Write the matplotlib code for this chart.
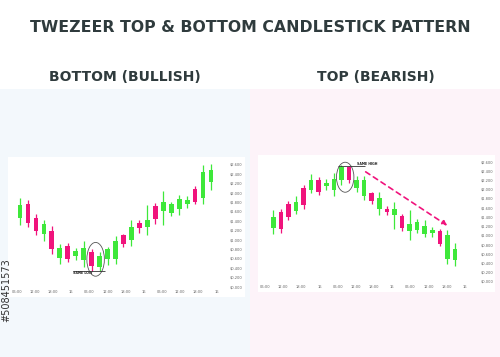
import matplotlib
matplotlib.use("Agg")
import matplotlib.pyplot as plt
from matplotlib.patches import Rectangle, Ellipse, FancyArrowPatch

W, H = 500, 357

GREEN = '#3ee83a'
PINK = '#f0137c'
TXT = '#2f3b3d'

# bottom (bullish) candles: open, high, low, close
bot_open = [1.48, 1.76, 1.48, 1.13, 1.20, 0.61, 0.88, 0.67, 0.57, 0.75, 0.43, 0.59, 0.59,
            1.10, 1.01, 1.36, 1.27, 1.73, 1.62, 1.57, 1.66, 1.77, 2.09, 1.89, 2.23]
bot_high = [1.89, 1.86, 1.55, 1.43, 1.30, 0.91, 0.94, 0.84, 0.98, 0.82, 0.75, 0.86, 1.09,
            1.14, 1.43, 1.43, 1.75, 1.80, 2.04, 1.82, 1.96, 1.93, 2.16, 2.61, 2.63]
bot_low = [1.32, 1.27, 1.11, 0.99, 0.70, 0.49, 0.54, 0.57, 0.43, 0.35, 0.35, 0.46, 0.50,
           0.86, 0.87, 1.16, 1.11, 1.34, 1.32, 1.51, 1.54, 1.68, 1.76, 1.77, 2.07]
bot_close = [1.74, 1.37, 1.19, 1.34, 0.80, 0.83, 0.60, 0.76, 0.83, 0.45, 0.67, 0.80, 0.99,
             0.91, 1.27, 1.26, 1.43, 1.45, 1.81, 1.77, 1.87, 1.86, 1.81, 2.46, 2.49]

# top (bearish) candles
top_open = [1.17, 1.51, 1.68, 1.53, 2.04, 2.00, 2.22, 2.07, 2.00, 2.20, 2.49, 2.04, 1.87,
            1.93, 1.58, 1.59, 1.46, 1.42, 1.10, 1.13, 1.03, 1.06, 1.10, 0.50, 0.48]
top_high = [1.55, 1.58, 1.75, 1.86, 2.11, 2.33, 2.27, 2.23, 2.36, 2.53, 2.52, 2.30, 2.30,
            1.96, 1.95, 1.65, 1.73, 1.47, 1.55, 1.37, 1.35, 1.19, 1.15, 1.13, 0.85]
top_low = [1.04, 1.06, 1.34, 1.47, 1.58, 1.93, 1.89, 2.00, 1.87, 2.11, 2.14, 1.96, 1.78,
           1.70, 1.46, 1.46, 1.15, 1.10, 0.90, 1.06, 0.98, 0.98, 0.77, 0.38, 0.34]
top_close = [1.41, 1.15, 1.41, 1.73, 1.66, 2.20, 1.95, 2.14, 2.23, 2.50, 2.20, 2.22, 2.22,
             1.75, 1.82, 1.51, 1.58, 1.17, 1.26, 1.31, 1.22, 1.13, 0.83, 1.01, 0.72]

price_ticks = [2.6, 2.4, 2.2, 2.0, 1.8, 1.6, 1.4, 1.2, 1.0, 0.8, 0.6, 0.4, 0.2, 0.0]
price_labels = ['$' + f'{v:.3f}' for v in price_ticks]
time_labels = ['06:00', '12:00', '18:00', '16', '06:00', '12:00', '18:00', '16',
               '06:00', '12:00', '18:00', '16']

fig = plt.figure(figsize=(W / 100, H / 100), dpi=100)
fig.patch.set_facecolor('white')


def px_rect(x0, y0, x1, y1):
    # pixel box (top-left origin) -> figure fraction
    return [x0 / W, 1 - y1 / H, (x1 - x0) / W, (y1 - y0) / H]


# coloured halves behind the charts
fig.patches.append(Rectangle((0, 0), 0.5, 1 - 89 / H, transform=fig.transFigure,
                             facecolor='#f3f8fc', edgecolor='none', zorder=-5))
fig.patches.append(Rectangle((0.5, 0), 0.5, 1 - 89 / H, transform=fig.transFigure,
                             facecolor='#fdf3f9', edgecolor='none', zorder=-5))

fig.text(0.5, 1 - 28 / H, 'TWEZEER TOP & BOTTOM CANDLESTICK PATTERN', ha='center',
         va='center', fontsize=11.3, fontweight='bold', color=TXT)
fig.text(125 / W, 1 - 77 / H, 'BOTTOM (BULLISH)', ha='center', va='center',
         fontsize=10, fontweight='bold', color=TXT)
fig.text(376 / W, 1 - 77 / H, 'TOP (BEARISH)', ha='center', va='center',
         fontsize=10, fontweight='bold', color=TXT)
fig.text(6 / W, 1 - 290 / H, '#508451573', rotation=90, ha='center', va='center',
         fontsize=7, color='#333333', zorder=10)


def candles(ax, o, h, l, c):
    for i in range(len(o)):
        col = GREEN if c[i] >= o[i] else PINK
        ax.vlines(i, l[i], h[i], color=col, lw=0.9, zorder=2)
        ax.bar(i, c[i] - o[i], bottom=o[i], width=0.6, color=col, zorder=3)


def setup(ax, xlim, ylim, ylab_x, xlab_y, xt0, xstep):
    ax.set_xlim(*xlim)
    ax.set_ylim(*ylim)
    ax.set_facecolor('white')
    for s in ax.spines.values():
        s.set_visible(False)
    ax.set_xticks([])
    ax.set_yticks([])
    for v, t in zip(price_ticks, price_labels):
        ax.text(ylab_x, v, t, fontsize=2.6, color='#666666', va='center', ha='left')
    for k, t in enumerate(time_labels):
        ax.text(xt0 + k * xstep, xlab_y, t, fontsize=2.6, color='#666666',
                va='center', ha='center')


# bottom chart
ax1 = fig.add_axes(px_rect(8, 157, 245, 297))
setup(ax1, (-1.51, 28.27), (-0.213, 2.77), 26.3, -0.107, -0.4, 2.28)
candles(ax1, bot_open, bot_high, bot_low, bot_close)
ax1.add_patch(Ellipse((9.5, 0.59), 2.2, 0.72, fill=False, ec='#555555', lw=0.6, zorder=4))
ax1.hlines(0.345, 6.7, 10.7, color='#333333', lw=0.6, zorder=4)
ax1.text(6.7, 0.30, 'SAME LOW', fontsize=2.3, color='#222222', ha='left', va='center',
         fontweight='bold')

# top chart
ax2 = fig.add_axes(px_rect(258, 155, 495, 292))
setup(ax2, (-2.02, 29.29), (-0.217, 2.752), 27.4, -0.102, -1.1, 2.4)
candles(ax2, top_open, top_high, top_low, top_close)
ax2.add_patch(Ellipse((9.5, 2.27), 2.3, 0.65, fill=False, ec='#555555', lw=0.6, zorder=4))
ax2.hlines(2.505, 8.6, 12.1, color='#333333', lw=0.6, zorder=4)
ax2.text(11.0, 2.56, 'SAME HIGH', fontsize=2.3, color='#222222', ha='left', va='center',
         fontweight='bold')
ax2.add_patch(FancyArrowPatch((11.9, 2.42), (23.3, 1.19), arrowstyle='-|>',
                              mutation_scale=7, color=PINK, lw=1.2,
                              linestyle=(0, (3, 2.5)), zorder=5))

fig.savefig('out.png', dpi=100)
